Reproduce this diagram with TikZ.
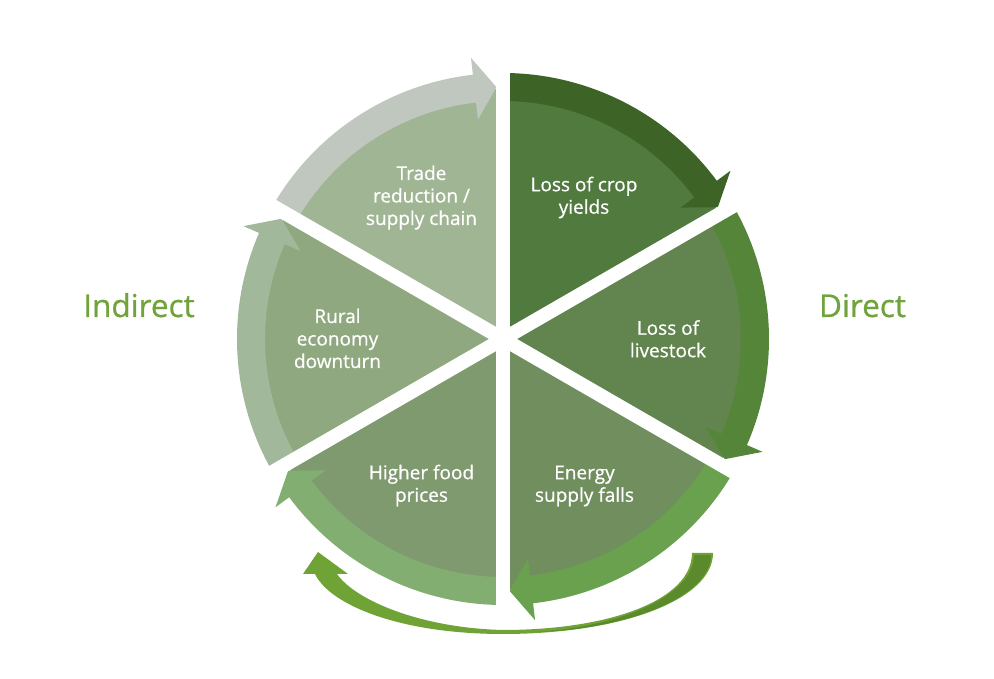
\documentclass[tikz,border=0pt]{standalone}
\usepackage{fontspec}
\setmainfont{Open Sans}[FakeBold=0.6]
\usetikzlibrary{calc}
\definecolor{sA}{HTML}{517A3F}
\definecolor{aA}{HTML}{3D6327}
\definecolor{sB}{HTML}{62854F}
\definecolor{aB}{HTML}{548538}
\definecolor{sC}{HTML}{718E5F}
\definecolor{aC}{HTML}{6AA14E}
\definecolor{sD}{HTML}{7F9A6F}
\definecolor{aD}{HTML}{83AE72}
\definecolor{sE}{HTML}{8FA880}
\definecolor{aE}{HTML}{A1B99A}
\definecolor{sF}{HTML}{A0B593}
\definecolor{aF}{HTML}{C0C7BF}
\definecolor{sidegreen}{HTML}{70A33A}
\definecolor{curvelight}{HTML}{6FA336}
\definecolor{curvedark}{HTML}{5A8A2C}
\newcommand\segsector[3]{%
  \fill[#3] (0,0) -- (#1:250pt) arc[start angle=#1, end angle=#2, radius=250pt] -- cycle;}
\newcommand\segarrow[3]{%
  \pgfmathsetmacro\barbang{#2+6.5}%
  \pgfmathsetmacro\tipang{#2+1.5}%
  \fill[#3] (#1:266pt) arc[start angle=#1, end angle=\barbang, radius=266pt]
    -- (\barbang:283pt) -- (\tipang:252pt) -- (\barbang:221pt) -- (\barbang:238pt)
    arc[start angle=\barbang, end angle=#1, radius=238pt] -- cycle;}
\begin{document}
\begin{tikzpicture}[x=1pt,y=1pt,
  lbl/.style={text=white, align=center, inner sep=0pt, font=\fontsize{19}{22.5}\selectfont},
  side/.style={text=sidegreen, inner sep=0pt, anchor=base, font=\fontsize{31.5}{36}\selectfont},
  gap/.style={white, line width=14pt}]
\useasboundingbox[fill=white] (0,0) rectangle (994,679);
\coordinate (C) at (503,340);
\begin{scope}[shift={(C)}]
  \segsector{90}{30}{sA}
  \segsector{30}{-30}{sB}
  \segsector{-30}{-90}{sC}
  \segsector{-90}{-150}{sD}
  \segsector{-150}{-210}{sE}
  \segsector{150}{90}{sF}
  \segarrow{90}{30}{aA}
  \segarrow{30}{-30}{aB}
  \segarrow{-30}{-90}{aC}
  \segarrow{-90}{-150}{aD}
  \segarrow{-150}{-210}{aE}
  \segarrow{150}{90}{aF}
  \coordinate (g1a) at (90:290pt); \coordinate (g1b) at (270:290pt);
  \coordinate (g2a) at (30:290pt); \coordinate (g2b) at (210:290pt);
  \coordinate (g3a) at (150:290pt); \coordinate (g3b) at (330:290pt);
\end{scope}
\draw[gap] (g1a) -- (g1b);
\draw[gap] (g2a) -- (g2b);
\draw[gap] (g3a) -- (g3b);
% bottom curved arrow
\fill[curvelight] (713,126) .. controls (713,79) and (620,45) .. (503,45)
  .. controls (400,45) and (330,74) .. (315,105)
  -- (303,105) -- (318,127) -- (348,105) -- (337,105)
  .. controls (355,79) and (420,51) .. (503,49)
  .. controls (610,49) and (692,79) .. (692,126) -- cycle;
\fill[curvedark] (711,124) .. controls (711,82) and (625,49) .. (535,47)
  .. controls (622,52) and (694,84) .. (694,124) -- cycle;
% labels
\node[lbl] (trade) at (421.5,481) {\strut Trade\\\strut reduction /\\\strut supply chain};
\node[lbl] (crop) at (584,481) {\strut Loss of crop\\\strut yields};
\node[lbl] (livestock) at (668,337.5) {\strut Loss of\\\strut livestock};
\node[lbl] (energy) at (584.5,193) {\strut Energy\\\strut supply falls};
\node[lbl] (food) at (421.5,193) {\strut Higher food\\\strut prices};
\node[lbl] (rural) at (337.5,338) {\strut Rural\\\strut economy\\\strut downturn};
\node[side] (direct) at (862.5,362) {Direct};
\node[side] (indirect) at (139,362) {Indirect};
\end{tikzpicture}
\end{document}
